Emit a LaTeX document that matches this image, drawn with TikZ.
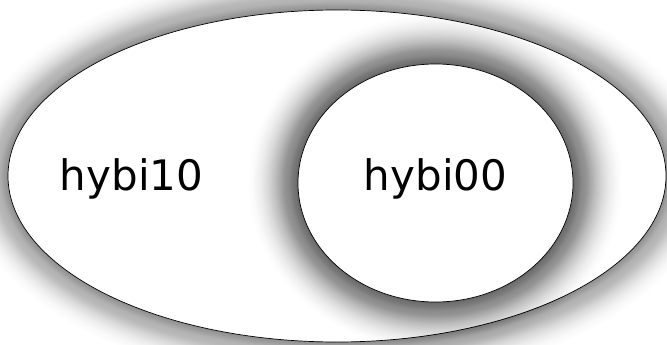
\documentclass[tikz,border=0pt]{standalone}
\usepackage{fontspec}
\setmainfont{DejaVu Sans}
\usetikzlibrary{shapes.geometric}

\tikzset{
  set/.style={ellipse, draw, fill=white, inner sep=0pt, line width=.7pt},
  setname/.style={font=\fontsize{42}{50}\selectfont, inner sep=0pt}
}

\begin{document}
\begin{tikzpicture}[x=1pt,y=-1pt]
  \useasboundingbox (0,0) rectangle (667,345);

  % glow round the outer set
  \foreach \i in {1,...,42}
    \fill[black,opacity={0.026-0.0006*\i}] (337,176) ellipse ({329+1.1*\i} and {166+1.1*\i});
  \node(hybi10set)[set, minimum width=658pt, minimum height=332pt] at (337,176){};

  % glow round the inner set
  \foreach \i in {1,...,45}
    \fill[black,opacity={0.03-0.0006*\i}] (435.5,183) ellipse ({137.5+1.1*\i} and {119+1.1*\i});
  \node(hybi00set)[set, minimum width=275pt, minimum height=238pt] at (435.5,183){};

  \node(label10)[setname, anchor=base] at (131.5,190.7){hybi10};
  \node(label00)[setname, anchor=base] at (435.5,190.7){hybi00};
\end{tikzpicture}
\end{document}
